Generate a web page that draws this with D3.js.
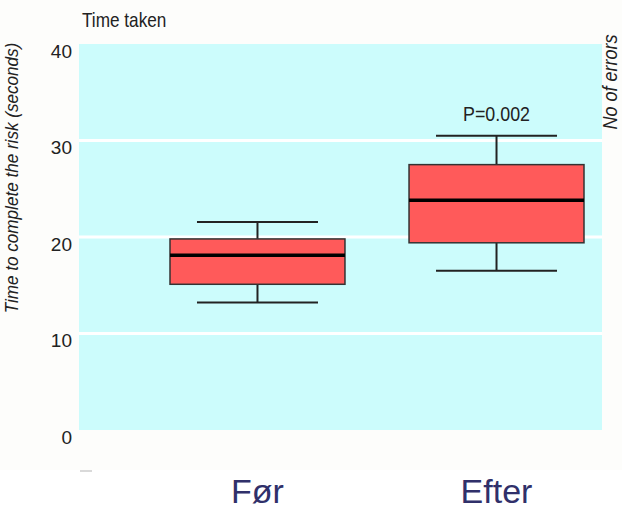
<!DOCTYPE html>
<html><head><meta charset="utf-8">
<script src="https://cdn.jsdelivr.net/npm/d3@7"></script>
<style>body{margin:0;background:#fff}</style>
</head><body><svg id="c" width="622" height="510"></svg>
<script>
const categories = ["Før", "Efter"];
const whiskerLow = [13.2, 16.5];
const q1 = [15.1, 19.4];
const median = [18.1, 23.8];
const q3 = [19.8, 27.5];
const whiskerHigh = [21.55, 30.5];
const yTicks = [0, 10, 20, 30, 40];
const pLabel = "P=0.002";

const svg = d3.select("#c");
const font = "'Liberation Sans',Arial,sans-serif";
svg.append("rect").attr("x",0).attr("y",0).attr("width",622).attr("height",470).attr("fill","#fdfdfb");

const L=79, R=602, T=44, B=430;
const y = d3.scaleLinear().domain([0,40]).range([B,T]);
const x = d3.scaleBand().domain(categories).range([170,584]).paddingInner(0.268).paddingOuter(0);

svg.append("rect").attr("x",L).attr("y",T).attr("width",R-L).attr("height",B-T).attr("fill","#ccfcfc");
svg.selectAll(".grid").data(yTicks.filter(d=>d>0&&d<40)).enter().append("line")
  .attr("x1",L).attr("x2",R).attr("y1",d=>y(d)).attr("y2",d=>y(d))
  .attr("stroke","#fff").attr("stroke-width",3);

const ax = svg.append("g").attr("transform",`translate(${L-7},7)`)
  .call(d3.axisLeft(y).tickValues(yTicks).tickSize(0).tickPadding(0));
ax.select(".domain").remove();
ax.selectAll("text").attr("font-family",font).attr("font-size",19).attr("fill","#222");

const cx = d=>x(d)+x.bandwidth()/2;
const capW = 121;
categories.forEach((c,i)=>{
  const g = svg.append("g");
  g.append("line").attr("x1",cx(c)).attr("x2",cx(c)).attr("y1",y(whiskerHigh[i])).attr("y2",y(q3[i])).attr("stroke","#222").attr("stroke-width",2);
  g.append("line").attr("x1",cx(c)).attr("x2",cx(c)).attr("y1",y(q1[i])).attr("y2",y(whiskerLow[i])).attr("stroke","#222").attr("stroke-width",2);
  [whiskerHigh[i], whiskerLow[i]].forEach(v=>{
    g.append("line").attr("x1",cx(c)-capW/2).attr("x2",cx(c)+capW/2).attr("y1",y(v)).attr("y2",y(v)).attr("stroke","#222").attr("stroke-width",2);
  });
  g.append("rect").attr("x",x(c)).attr("width",x.bandwidth()).attr("y",y(q3[i])).attr("height",y(q1[i])-y(q3[i]))
    .attr("fill","#ff5a5a").attr("stroke","#333").attr("stroke-width",1.5);
  g.append("line").attr("x1",x(c)).attr("x2",x(c)+x.bandwidth()).attr("y1",y(median[i])).attr("y2",y(median[i])).attr("stroke","#000").attr("stroke-width",3.5);
  svg.append("text").attr("x",cx(c)).attr("y",503).attr("text-anchor","middle")
    .attr("font-family",font).attr("font-size",34).attr("fill","#30306a").text(c);
});

svg.append("text").attr("transform",`translate(${cx("Efter")},121) scale(0.85,1)`).attr("text-anchor","middle")
  .attr("font-family",font).attr("font-size",21).attr("fill","#222").text(pLabel);

svg.append("text").attr("transform","translate(82,27) scale(0.86,1)").attr("font-family",font).attr("font-size",20).attr("fill","#222").text("Time taken");
svg.append("text").attr("transform","translate(18,178) rotate(-90) scale(0.9,1)").attr("text-anchor","middle")
  .attr("font-family",font).attr("font-style","italic").attr("font-size",19).attr("fill","#222")
  .text("Time to complete the risk (seconds)");
svg.append("text").attr("transform","translate(617,82) rotate(-90) scale(0.9,1)").attr("text-anchor","middle")
  .attr("font-family",font).attr("font-style","italic").attr("font-size",20).attr("fill","#222")
  .text("No of errors");
svg.append("line").attr("x1",80).attr("x2",92).attr("y1",471).attr("y2",471).attr("stroke","#ccc").attr("stroke-width",1.5);
</script></body></html>
